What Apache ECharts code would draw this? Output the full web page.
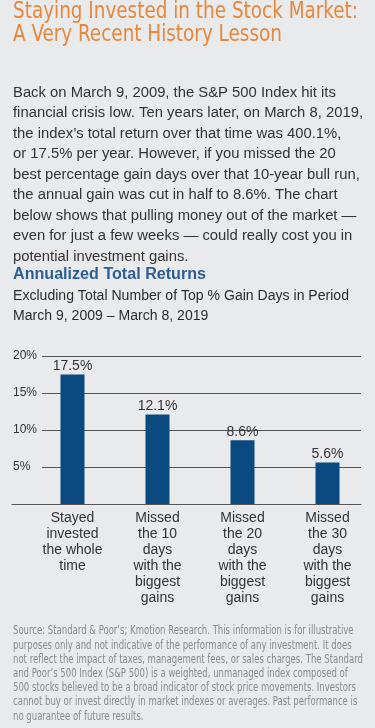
<!DOCTYPE html>
<html lang="en">
<head>
<meta charset="UTF-8">
<title>Staying Invested in the Stock Market</title>
<style>
    body { margin: 0; padding: 0; background: #e9eaec; }
    #chart { width: 375px; height: 728px; }
</style>
</head>
<body>
<script src="https://cdn.jsdelivr.net/npm/echarts/dist/echarts.min.js"></script>
<div id="chart"></div>
<script>
// data
var titleLines = ['Staying Invested in the Stock Market:', 'A Very Recent History Lesson'];
var introLines = [
    'Back on March 9, 2009, the S&P 500 Index hit its',
    'financial crisis low. Ten years later, on March 8, 2019,',
    'the index\u2019s total return over that time was 400.1%,',
    'or 17.5% per year. However, if you missed the 20',
    'best percentage gain days over that 10-year bull run,',
    'the annual gain was cut in half to 8.6%. The chart',
    'below shows that pulling money out of the market \u2014',
    'even for just a few weeks \u2014 could really cost you in',
    'potential investment gains.'
];
var chartTitle = 'Annualized Total Returns';
var chartSubLines = ['Excluding Total Number of Top % Gain Days in Period', 'March 9, 2009 \u2013 March 8, 2019'];
var categories = [
    'Stayed\ninvested\nthe whole\ntime',
    'Missed\nthe 10\ndays\nwith the\nbiggest\ngains',
    'Missed\nthe 20\ndays\nwith the\nbiggest\ngains',
    'Missed\nthe 30\ndays\nwith the\nbiggest\ngains'
];
var returns = [17.5, 12.1, 8.6, 5.6];
var yMin = 0, yMax = 20, yStep = 5;
var noteLines = [
    'Source: Standard & Poor\u2019s; Kmotion Research. This information is for illustrative',
    'purposes only and not indicative of the performance of any investment. It does',
    'not reflect the impact of taxes, management fees, or sales charges. The Standard',
    'and Poor\u2019s 500 Index (S&P 500) is a weighted, unmanaged index composed of',
    '500 stocks believed to be a broad indicator of stock price movements. Investors',
    'cannot buy or invest directly in market indexes or averages. Past performance is',
    'no guarantee of future results.'
];

var SANS = '"Liberation Sans", Arial, sans-serif';
var NARROW = '"Liberation Sans Narrow", "DejaVu Sans Condensed", "Liberation Sans", sans-serif';

// squeeze text horizontally so a reference line gets the wanted width
var measure = document.createElement('canvas').getContext('2d');
function fitScale(text, size, family, weight, width) {
    measure.font = (weight || 'normal') + ' ' + size + 'px ' + family;
    return width / measure.measureText(text).width;
}

// a text block: first line centred at y0, lines lh apart
function textBlock(lines, size, family, weight, color, y0, lh, refIdx, refWidth) {
    var s = fitScale(lines[refIdx], size, family, weight, refWidth);
    return {
        type: 'text',
        x: 13,
        y: y0 - lh / 2,
        scaleX: s,
        silent: true,
        style: {
            text: lines.join('\n'),
            fontSize: size,
            fontFamily: family,
            fontWeight: weight,
            fill: color,
            lineHeight: lh,
            verticalAlign: 'top',
            align: 'left'
        }
    };
}

var myChart = echarts.init(document.getElementById('chart'));

var option = {
    animation: false,
    backgroundColor: '#e9eaec',
    textStyle: { fontFamily: SANS },
    graphic: [
        textBlock(titleLines, 22.5, NARROW, 'normal', '#e6873c', 12.5, 22.5, 0, 345),
        textBlock(introLines, 15.5, SANS, 'normal', '#333333', 92.5, 20.5, 1, 350),
        textBlock([chartTitle], 16, SANS, 'bold', '#2d5f94', 274.5, 20, 0, 193),
        textBlock(chartSubLines, 14, SANS, 'normal', '#2b2b2b', 295.7, 20, 0, 336),
        textBlock(noteLines, 13, NARROW, 'normal', '#8a8a8a', 631, 14.2, 2, 350)
    ],
    grid: [
        { left: 30, right: 5, top: 356, bottom: 224 },
        { left: 42, right: 14, top: 356, bottom: 224 },
        { left: 12, right: 14, top: 356, bottom: 224 }
    ],
    xAxis: [
        {
            gridIndex: 0,
            type: 'category',
            data: categories,
            axisLine: { show: false },
            axisTick: { show: false },
            axisLabel: {
                interval: 0,
                margin: 6,
                fontSize: 14,
                lineHeight: 16,
                color: '#333333',
                fontFamily: SANS
            }
        },
        { gridIndex: 1, type: 'value', min: 0, max: 1, show: false },
        {
            gridIndex: 2,
            type: 'value',
            min: 0,
            max: 1,
            axisLine: { show: true, lineStyle: { color: '#555555', width: 1 } },
            axisTick: { show: false },
            axisLabel: { show: false },
            splitLine: { show: false }
        }
    ],
    yAxis: [
        { gridIndex: 0, type: 'value', min: yMin, max: yMax, show: false },
        {
            gridIndex: 1,
            type: 'value',
            min: yMin,
            max: yMax,
            interval: yStep,
            axisLine: { show: false },
            axisTick: { show: false },
            splitLine: { show: true, lineStyle: { color: '#555555', width: 1 } },
            axisLabel: {
                align: 'left',
                margin: 29,
                fontSize: 12,
                color: '#333333',
                fontFamily: SANS,
                formatter: function (v) { return v === 0 ? '' : v + '%'; }
            }
        },
        { gridIndex: 2, type: 'value', min: 0, max: 1, show: false }
    ],
    series: [{
        name: 'Annualized Total Returns',
        type: 'bar',
        xAxisIndex: 0,
        yAxisIndex: 0,
        data: returns,
        barWidth: 24,
        itemStyle: { color: '#0b4a80' },
        label: {
            show: true,
            position: 'top',
            distance: 1,
            fontSize: 14,
            color: '#333333',
            fontFamily: SANS,
            formatter: function (p) { return p.value.toFixed(1) + '%'; }
        }
    }]
};

myChart.setOption(option);
</script>
</body>
</html>
